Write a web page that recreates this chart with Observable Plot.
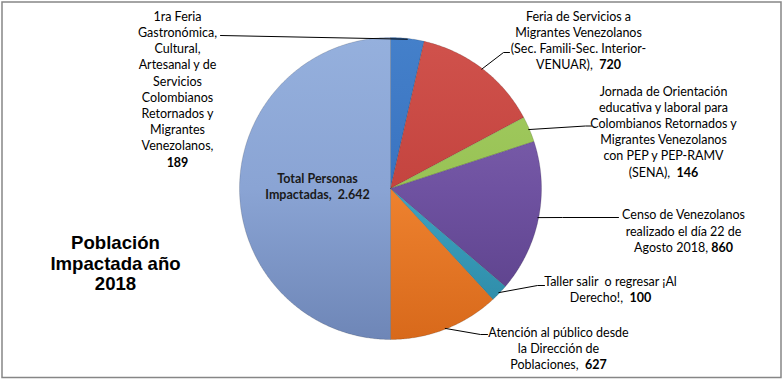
<!DOCTYPE html>
<html>
<head>
<meta charset="utf-8">
<script src="https://cdn.jsdelivr.net/npm/d3@7"></script>
<script src="https://cdn.jsdelivr.net/npm/@observablehq/plot@0.6"></script>
<style>
  html, body { margin: 0; padding: 0; background: #fff; }
  #chart svg text { white-space: pre; }
</style>
</head>
<body>
<div id="chart"></div>
<script>
// ---- Data ----
const categories = [
  "1ra Feria Gastronómica, Cultural, Artesanal y de Servicios Colombianos Retornados y Migrantes Venezolanos",
  "Feria de Servicios a Migrantes Venezolanos (Sec. Famili-Sec. Interior-VENUAR)",
  "Jornada de Orientación educativa y laboral para Colombianos Retornados y Migrantes Venezolanos con PEP y PEP-RAMV (SENA)",
  "Censo de Venezolanos realizado el día 22 de Agosto 2018",
  "Taller salir  o regresar ¡Al Derecho!",
  "Atención al público desde la Dirección de Poblaciones",
  "Total Personas Impactadas"
];
const values = [189, 720, 146, 860, 100, 627, 2642];
const valueLabels = ["189", "720", "146", "860", "100", "627", "2.642"];
// wrapped label text as shown in the chart
const labelLines = [
  ["1ra Feria", "Gastronómica,", "Cultural,", "Artesanal y de", "Servicios", "Colombianos", "Retornados y", "Migrantes", "Venezolanos,", "189"],
  ["Feria de Servicios a", "Migrantes Venezolanos", "(Sec. Famili-Sec. Interior-", "VENUAR),  720"],
  ["Jornada de Orientación", "educativa y laboral para", "Colombianos Retornados y", "Migrantes Venezolanos", "con PEP y PEP-RAMV", "(SENA),  146"],
  ["Censo de Venezolanos", "realizado el día 22 de", "Agosto 2018, 860"],
  ["Taller salir  o regresar ¡Al", "Derecho!,  100"],
  ["Atención al público desde", "la Dirección de", "Poblaciones,  627"],
  ["Total Personas", "Impactadas,  2.642"]
];
// top, middle, bottom shades per slice
const sliceColors = [
  ["#4480CA", "#3A73C0", "#2C5C9C"],
  ["#D0524C", "#C4443F", "#A2302C"],
  ["#A5CE62", "#98C255", "#7BA240"],
  ["#8669B2", "#6F52A1", "#583E86"],
  ["#4DB2CF", "#3EA3C2", "#2A86A2"],
  ["#FA9C48", "#EE822F", "#D8691B"],
  ["#95B0DD", "#8AA4D4", "#6E86B7"]
];
const titleLines = ["Población", "Impactada año", "2018"];

// ---- Layout ----
const W = 782, H = 379;
const cx = 390, cy = 188, R = 151;
// label block centres and leader end points (layout only)
const labelPos = [
  {x: 177, y: 88,  leader: [[220, 35]]},
  {x: 578, y: 39.5, leader: [[503, 52], [509, 52]]},
  {x: 663, y: 130.5, leader: [[585, 125.5], [591, 125.5]]},
  {x: 683, y: 230, leader: [[562, 217], [618, 217]]},
  {x: 610, y: 288.5, leader: [[537, 285], [544, 285]]},
  {x: 558, y: 347.5, leader: [[480, 334], [487, 334]]},
  {x: 317, y: 185, leader: null}
];

const arcs = d3.pie().sort(null).value(d => d)(values);

const slicePts = [];
arcs.forEach((a, i) => {
  const n = Math.max(2, Math.ceil((a.endAngle - a.startAngle) / (Math.PI / 360)));
  slicePts.push({i, x: 0, y: 0, fill: `url(#grad${i})`});
  for (let k = 0; k <= n; k++) {
    const t = a.startAngle + (a.endAngle - a.startAngle) * k / n;
    slicePts.push({i, x: Math.sin(t), y: Math.cos(t), fill: `url(#grad${i})`});
  }
  slicePts.push({i, x: 0, y: 0, fill: `url(#grad${i})`});
});

// leader lines: from slice mid-angle edge to label
const leaderPts = [];
arcs.forEach((a, i) => {
  const lp = labelPos[i];
  if (!lp.leader) return;
  const m = (a.startAngle + a.endAngle) / 2;
  const rr = 0.995;
  leaderPts.push({i, px: cx + R * rr * Math.sin(m), py: cy - R * rr * Math.cos(m)});
  lp.leader.forEach(([px, py]) => leaderPts.push({i, px, py}));
});

const labelData = labelLines.map((lines, i) => ({
  x: labelPos[i].x, y: labelPos[i].y, text: lines.join("\n"), i
}));

const fontLabels = "Lato, 'Open Sans', sans-serif";

const plot = Plot.plot({
  width: W, height: H,
  margin: 0,
  x: {domain: [-1, 1], range: [cx - R, cx + R], axis: null},
  y: {domain: [-1, 1], range: [cy + R, cy - R], axis: null},
  color: {type: "identity"},
  style: {fontFamily: fontLabels, background: "#fff", overflow: "visible"},
  marks: [
    Plot.line(slicePts, {x: "x", y: "y", z: "i", fill: "fill", stroke: "#000", strokeOpacity: 0.18, strokeWidth: 0.8, curve: "linear"}),
    Plot.line(leaderPts, {x: d => (d.px - cx) / R, y: d => (cy - d.py) / R, z: "i", stroke: "#000", strokeWidth: 1, curve: "linear"}),
    Plot.text(labelData.filter(d => d.i < 6), {
      x: d => (d.x - cx) / R, y: d => (cy - d.y) / R, text: "text",
      fontSize: 12.5, lineHeight: 16.2 / 12.5, textAnchor: "middle", lineAnchor: "middle", fill: "#000"
    }),
    Plot.text(labelData.filter(d => d.i === 6), {
      x: d => (d.x - cx) / R, y: d => (cy - d.y) / R, text: "text",
      fontSize: 12.5, fontWeight: "bold", lineHeight: 16.2 / 12.5, textAnchor: "middle", lineAnchor: "middle", fill: "#1a1a1a"
    }),
    Plot.text([titleLines.join("\n")], {
      x: [(115 - cx) / R], y: [(cy - 262.5) / R], text: d => d,
      fontSize: 18.6, fontWeight: "bold", fontFamily: "'Liberation Sans', Arial, sans-serif",
      lineHeight: 20.5 / 18.6, textAnchor: "middle", lineAnchor: "middle", fill: "#000"
    }),
    Plot.frame({stroke: "#868686", strokeWidth: 1.5, insetLeft: 1.5, insetTop: 1.5, insetRight: 1.5, insetBottom: 2})
  ]
});

// gradients for the slices
const svg = d3.select(plot);
const defs = svg.insert("defs", ":first-child");
sliceColors.forEach(([c0, c1, c2], i) => {
  const g = defs.append("linearGradient")
    .attr("id", `grad${i}`)
    .attr("gradientUnits", "userSpaceOnUse")
    .attr("x1", cx).attr("y1", cy - R).attr("x2", cx).attr("y2", cy + R);
  g.append("stop").attr("offset", "0%").attr("stop-color", c0);
  g.append("stop").attr("offset", "50%").attr("stop-color", c1);
  g.append("stop").attr("offset", "100%").attr("stop-color", c2);
});

// bold the values at the end of each label
svg.selectAll("text").each(function() {
  this.setAttribute("xml:space", "preserve");
  const tspans = this.querySelectorAll("tspan");
  if (!tspans.length) return;
  const last = tspans[tspans.length - 1];
  const m = last.textContent.match(/^(.*?)(\d[\d.]*)$/);
  if (!m || !valueLabels.includes(m[2])) return;
  last.textContent = m[1];
  const b = document.createElementNS("http://www.w3.org/2000/svg", "tspan");
  b.setAttribute("font-weight", "bold");
  b.textContent = m[2];
  last.appendChild(b);
});

document.getElementById("chart").appendChild(plot);
</script>
</body>
</html>
